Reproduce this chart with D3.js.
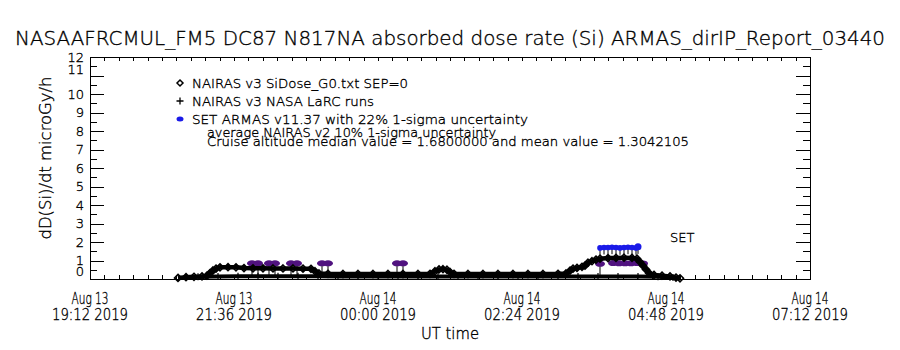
<!DOCTYPE html>
<html>
<head>
<meta charset="utf-8">
<script src="https://d3js.org/d3.v7.min.js"></script>
<style>
    body { margin: 0; background: #fff; }
    svg text { font-family: "DejaVu Sans", "Liberation Sans", sans-serif; font-weight: 200;
               fill: #000; stroke: #000; stroke-width: 0.35px; }
</style>
</head>
<body>
<div id="chart"></div>
<script>

    // time range of the plot (UT) and the axis labels
    var xStart = "2019-08-13 19:12", xEnd = "2019-08-14 07:12";
    var xTickTimes = ["2019-08-13 19:12", "2019-08-13 21:36", "2019-08-14 00:00",
                      "2019-08-14 02:24", "2019-08-14 04:48", "2019-08-14 07:12"];
    var xTickDays = ["Aug 13", "Aug 13", "Aug 14", "Aug 14", "Aug 14", "Aug 14"];
    var xTickHours = ["19:12 2019", "21:36 2019", "00:00 2019", "02:24 2019", "04:48 2019", "07:12 2019"];
    var yTicks = [0, 1, 2, 3, 4, 5, 6, 7, 8, 9, 10, 11, 12];

    // NAIRAS v3 SiDose_G0.txt (diamonds)
    var siDoseTimes = ["2019-08-13 20:40", "2019-08-13 20:48", "2019-08-13 20:56", "2019-08-13 21:04",
        "2019-08-13 21:09", "2019-08-13 21:12", "2019-08-13 21:15", "2019-08-13 21:18", "2019-08-13 21:22",
        "2019-08-13 21:30", "2019-08-13 21:38", "2019-08-13 21:46", "2019-08-13 21:55", "2019-08-13 22:05",
        "2019-08-13 22:15", "2019-08-13 22:25", "2019-08-13 22:35", "2019-08-13 22:45", "2019-08-13 22:53",
        "2019-08-13 22:57", "2019-08-13 23:01", "2019-08-13 23:10", "2019-08-13 23:25", "2019-08-13 23:40",
        "2019-08-13 23:55", "2019-08-14 00:10", "2019-08-14 00:25", "2019-08-14 00:40", "2019-08-14 00:52",
        "2019-08-14 00:57", "2019-08-14 01:01", "2019-08-14 01:05", "2019-08-14 01:09", "2019-08-14 01:12",
        "2019-08-14 01:16", "2019-08-14 01:30", "2019-08-14 01:45", "2019-08-14 02:00", "2019-08-14 02:15",
        "2019-08-14 02:30", "2019-08-14 02:45", "2019-08-14 03:00", "2019-08-14 03:08", "2019-08-14 03:12",
        "2019-08-14 03:15", "2019-08-14 03:19", "2019-08-14 03:24", "2019-08-14 03:27", "2019-08-14 03:30",
        "2019-08-14 03:34", "2019-08-14 03:38", "2019-08-14 03:42", "2019-08-14 03:50", "2019-08-14 03:58",
        "2019-08-14 04:06", "2019-08-14 04:14", "2019-08-14 04:19", "2019-08-14 04:22", "2019-08-14 04:25",
        "2019-08-14 04:28", "2019-08-14 04:31", "2019-08-14 04:36", "2019-08-14 04:44", "2019-08-14 04:52",
        "2019-08-14 04:58", "2019-08-14 05:02"];
    var siDoseValues = [0.06, 0.10, 0.12, 0.14,
        0.18, 0.32, 0.46, 0.56, 0.63,
        0.64, 0.63, 0.59, 0.58, 0.58,
        0.57, 0.57, 0.57, 0.56, 0.55,
        0.42, 0.30, 0.28, 0.27, 0.27,
        0.27, 0.27, 0.27, 0.27, 0.28,
        0.42, 0.52, 0.53, 0.50, 0.38,
        0.28, 0.27, 0.27, 0.27, 0.27,
        0.27, 0.27, 0.28, 0.30, 0.45,
        0.56, 0.60, 0.66, 0.72, 0.88,
        0.96, 1.05, 1.10, 1.13, 1.14,
        1.15, 1.14, 1.10, 0.92, 0.72,
        0.52, 0.32, 0.22, 0.18, 0.14,
        0.08, 0.04];

    // NAIRAS v3 NASA LaRC runs (plus signs)
    var larcTimes = ["2019-08-13 21:00", "2019-08-13 21:20", "2019-08-13 21:40", "2019-08-13 22:00",
        "2019-08-13 22:20", "2019-08-13 22:40", "2019-08-13 23:00", "2019-08-13 23:20", "2019-08-13 23:40",
        "2019-08-14 00:00", "2019-08-14 00:20", "2019-08-14 00:40", "2019-08-14 01:00", "2019-08-14 01:20",
        "2019-08-14 01:40", "2019-08-14 02:00", "2019-08-14 02:20", "2019-08-14 02:40", "2019-08-14 03:00",
        "2019-08-14 03:20", "2019-08-14 03:40", "2019-08-14 04:00", "2019-08-14 04:20", "2019-08-14 04:40",
        "2019-08-14 04:55"];
    var larcValues = [0.12, 0.14, 0.15, 0.15,
        0.15, 0.15, 0.15, 0.14, 0.14,
        0.14, 0.14, 0.14, 0.14, 0.14,
        0.14, 0.14, 0.14, 0.14, 0.14,
        0.14, 0.14, 0.14, 0.14, 0.12,
        0.08];

    // SET ARMAS v11.37, 22% 1-sigma
    var setTimes = ["2019-08-14 03:42", "2019-08-14 03:46", "2019-08-14 03:50", "2019-08-14 03:54",
        "2019-08-14 03:58", "2019-08-14 04:02", "2019-08-14 04:06", "2019-08-14 04:10", "2019-08-14 04:14",
        "2019-08-14 04:18", "2019-08-14 04:20"];
    var setValues = [1.68, 1.70, 1.70, 1.72, 1.70, 1.68, 1.70, 1.72, 1.70, 1.68, 1.74];
    var setSigma = 0.22;

    // average NAIRAS v2 (purple) with the lower ends of their bars
    var avgTimes = ["2019-08-13 21:54", "2019-08-13 22:00", "2019-08-13 22:11", "2019-08-13 22:17",
        "2019-08-13 22:33", "2019-08-13 22:39", "2019-08-13 23:04", "2019-08-13 23:10",
        "2019-08-14 00:19", "2019-08-14 00:25", "2019-08-14 03:42", "2019-08-14 03:55",
        "2019-08-14 04:01", "2019-08-14 04:07", "2019-08-14 04:13", "2019-08-14 04:19", "2019-08-14 04:25"];
    var avgValues = [0.85, 0.85, 0.85, 0.85, 0.85, 0.85, 0.85, 0.85,
        0.85, 0.85, 0.82, 0.86, 0.85, 0.85, 0.85, 0.86, 0.84];
    var avgLow = [0.12, 0.12, 0.12, 0.12, 0.12, 0.12, 0.12, 0.12,
        0.12, 0.12, 0.12, null, null, null, null, null, null];

    var legendLabels = ["NAIRAS v3 SiDose_G0.txt SEP=0", "NAIRAS v3 NASA LaRC runs",
        "SET ARMAS v11.37 with 22% 1-sigma uncertainty"];
    var noteLabels = ["average NAIRAS v2 10% 1-sigma uncertainty",
        "Cruise altitude median value = 1.6800000 and mean value = 1.3042105"];

    var parseTime = d3.utcParse("%Y-%m-%d %H:%M");

    var W = 900, H = 350;
    var margin = {top: 57, bottom: 71, left: 90, right: 90};
    var purple = "#50127f", blue = "#1a1ae8";

    var svg = d3.select("#chart").append("svg")
        .attr("width", W)
        .attr("height", H);

    var x = d3.scaleUtc()
        .domain([parseTime(xStart), parseTime(xEnd)])
        .range([margin.left, W - margin.right]);

    var y = d3.scaleLinear()
        .domain([0, 12])
        .range([H - margin.bottom, margin.top]);

    // minor ticks every 1/10 of a major step (14.4 minutes)
    var t0 = parseTime(xStart).getTime();
    var minorX = d3.range(51).map(function (i) { return new Date(t0 + i * 14.4 * 60000); });
    var minorY = d3.range(0, 12.01, 0.5);

    function tickAxis(axis, vals, size) {
        return axis.tickValues(vals).tickSize(size).tickFormat("");
    }
    function clean(g) {
        g.select(".domain").remove();
        g.selectAll("line").attr("stroke", "#000").attr("shape-rendering", "crispEdges");
    }

    svg.append("g").attr("transform", "translate(0," + y(0) + ")")
        .call(tickAxis(d3.axisBottom(x), minorX, -4)).call(clean);
    svg.append("g").attr("transform", "translate(0," + y(12) + ")")
        .call(tickAxis(d3.axisTop(x), minorX, -4)).call(clean);
    svg.append("g").attr("transform", "translate(" + x.range()[0] + ",0)")
        .call(tickAxis(d3.axisLeft(y), minorY, -7)).call(clean);
    svg.append("g").attr("transform", "translate(" + x.range()[0] + ",0)")
        .call(tickAxis(d3.axisLeft(y), yTicks, -14)).call(clean);
    svg.append("g").attr("transform", "translate(" + x.range()[1] + ",0)")
        .call(tickAxis(d3.axisRight(y), minorY, -7)).call(clean);
    svg.append("g").attr("transform", "translate(" + x.range()[1] + ",0)")
        .call(tickAxis(d3.axisRight(y), yTicks, -14)).call(clean);

    svg.append("rect")
        .attr("x", x.range()[0] + 0.5)
        .attr("y", y(12) + 0.5)
        .attr("width", x.range()[1] - x.range()[0])
        .attr("height", y(0) - y(12))
        .attr("fill", "none")
        .attr("stroke", "#000");

    // y tick labels
    svg.append("g").selectAll("text")
        .data(yTicks).enter()
        .append("text")
        .attr("x", x.range()[0] - 6)
        .attr("y", function (d) { return y(d) + (d === 0 ? -8 : d === 11 ? -6 : 0); })
        .attr("dy", "0.36em")
        .attr("text-anchor", "end")
        .attr("font-size", "13px")
        .text(function (d) { return d; });

    // x tick labels
    var xl = svg.append("g").selectAll("g")
        .data(xTickTimes).enter()
        .append("g")
        .attr("transform", function (d) { return "translate(" + x(parseTime(d)) + ",0)"; });
    xl.append("text")
        .attr("y", 304)
        .attr("text-anchor", "middle")
        .attr("font-size", "15px")
        .attr("textLength", 37)
        .attr("lengthAdjust", "spacingAndGlyphs")
        .text(function (d, i) { return xTickDays[i]; });
    xl.append("text")
        .attr("y", 320)
        .attr("text-anchor", "middle")
        .attr("font-size", "15px")
        .attr("textLength", 76)
        .attr("lengthAdjust", "spacingAndGlyphs")
        .text(function (d, i) { return xTickHours[i]; });

    svg.append("text")
        .attr("x", (x.range()[0] + x.range()[1]) / 2)
        .attr("y", 339)
        .attr("text-anchor", "middle")
        .attr("font-size", "15px")
        .attr("textLength", 58)
        .attr("lengthAdjust", "spacingAndGlyphs")
        .text("UT time");

    svg.append("text")
        .attr("transform", "translate(51,158) rotate(-90)")
        .attr("text-anchor", "middle")
        .attr("font-size", "15px")
        .attr("textLength", 163)
        .attr("lengthAdjust", "spacingAndGlyphs")
        .text("dD(Si)/dt microGy/h");

    svg.append("text")
        .attr("x", 450)
        .attr("y", 45)
        .attr("text-anchor", "middle")
        .attr("font-size", "20px")
        .attr("textLength", 870)
        .attr("lengthAdjust", "spacingAndGlyphs")
        .text("NASAAFRCMUL_FM5 DC87 N817NA absorbed dose rate (Si) ARMAS_dirIP_Report_03440");

    // build point lists
    function pts(times, vals) {
        return times.map(function (t, i) { return {t: parseTime(t), v: vals[i], i: i}; });
    }
    var siDose = pts(siDoseTimes, siDoseValues);
    var larc = pts(larcTimes, larcValues);
    var setData = pts(setTimes, setValues);
    var avg = pts(avgTimes, avgValues);

    var line = d3.line()
        .x(function (d) { return x(d.t); })
        .y(function (d) { return y(d.v); });

    // purple bars and points
    svg.append("g").selectAll("line")
        .data(avg.filter(function (d) { return avgLow[d.i] !== null; })).enter()
        .append("line")
        .attr("x1", function (d) { return x(d.t); })
        .attr("x2", function (d) { return x(d.t); })
        .attr("y1", function (d) { return y(d.v); })
        .attr("y2", function (d) { return y(avgLow[d.i]); })
        .attr("stroke", "#000")
        .attr("stroke-width", 1);
    svg.append("g").selectAll("ellipse")
        .data(avg).enter()
        .append("ellipse")
        .attr("cx", function (d) { return x(d.t); })
        .attr("cy", function (d) { return y(d.v); })
        .attr("rx", 5)
        .attr("ry", 3)
        .attr("fill", purple);

    // LaRC runs
    svg.append("path")
        .datum(larc)
        .attr("d", line)
        .attr("fill", "none")
        .attr("stroke", "#000")
        .attr("stroke-width", 4);
    svg.append("g").selectAll("path")
        .data(larc).enter()
        .append("path")
        .attr("transform", function (d) { return "translate(" + x(d.t) + "," + y(d.v) + ")"; })
        .attr("d", "M-3.5,0H3.5M0,-3.5V3.5")
        .attr("stroke", "#000")
        .attr("stroke-width", 1.2);

    // SiDose
    svg.append("path")
        .datum(siDose)
        .attr("d", line)
        .attr("fill", "none")
        .attr("stroke", "#000")
        .attr("stroke-width", 4.5)
        .attr("stroke-linejoin", "round");
    svg.append("g").selectAll("path")
        .data(siDose).enter()
        .append("path")
        .attr("transform", function (d) { return "translate(" + x(d.t) + "," + y(d.v) + ")"; })
        .attr("d", "M0,-3.5L3.5,0L0,3.5L-3.5,0Z")
        .attr("fill", "none")
        .attr("stroke", "#000")
        .attr("stroke-width", 1.6);

    // SET ARMAS with lower 1-sigma bars
    svg.append("g").selectAll("line")
        .data(setData).enter()
        .append("line")
        .attr("x1", function (d) { return x(d.t); })
        .attr("x2", function (d) { return x(d.t); })
        .attr("y1", function (d) { return y(d.v); })
        .attr("y2", function (d) { return y(d.v * (1 - setSigma)); })
        .attr("stroke", "#000")
        .attr("stroke-width", 1);
    svg.append("path")
        .datum(setData)
        .attr("d", line)
        .attr("fill", "none")
        .attr("stroke", blue)
        .attr("stroke-width", 4);
    svg.append("g").selectAll("circle")
        .data(setData).enter()
        .append("circle")
        .attr("cx", function (d) { return x(d.t); })
        .attr("cy", function (d) { return y(d.v); })
        .attr("r", function (d, i) { return i === setData.length - 1 ? 3.5 : 2.8; })
        .attr("fill", blue);

    svg.append("text")
        .attr("x", 670)
        .attr("y", 242)
        .attr("font-size", "13px")
        .text("SET");

    // legend
    var legendY = [83, 101, 119];
    var lg = svg.append("g").selectAll("g")
        .data(legendLabels).enter()
        .append("g")
        .attr("transform", function (d, i) { return "translate(180," + legendY[i] + ")"; });
    lg.append("text")
        .attr("x", 12)
        .attr("dy", "0.36em")
        .attr("font-size", "13px")
        .attr("textLength", function (d, i) { return [216, 182, 336][i]; })
        .attr("lengthAdjust", "spacingAndGlyphs")
        .text(function (d) { return d; });
    lg.filter(function (d, i) { return i === 0; }).append("path")
        .attr("d", "M0,-3L3,0L0,3L-3,0Z")
        .attr("fill", "#fff")
        .attr("stroke", "#000")
        .attr("stroke-width", 1.5);
    lg.filter(function (d, i) { return i === 1; }).append("path")
        .attr("d", "M-3.5,0H3.5M0,-3.5V3.5")
        .attr("stroke", "#000")
        .attr("stroke-width", 1.3);
    lg.filter(function (d, i) { return i === 2; }).append("ellipse")
        .attr("rx", 3.5)
        .attr("ry", 2.5)
        .attr("fill", blue);

    svg.append("g").selectAll("text")
        .data(noteLabels).enter()
        .append("text")
        .attr("x", 207)
        .attr("y", function (d, i) { return [132, 141][i]; })
        .attr("dy", "0.36em")
        .attr("font-size", "13px")
        .attr("textLength", function (d, i) { return [289, 482][i]; })
        .attr("lengthAdjust", "spacingAndGlyphs")
        .text(function (d) { return d; });

</script>
</body>
</html>
